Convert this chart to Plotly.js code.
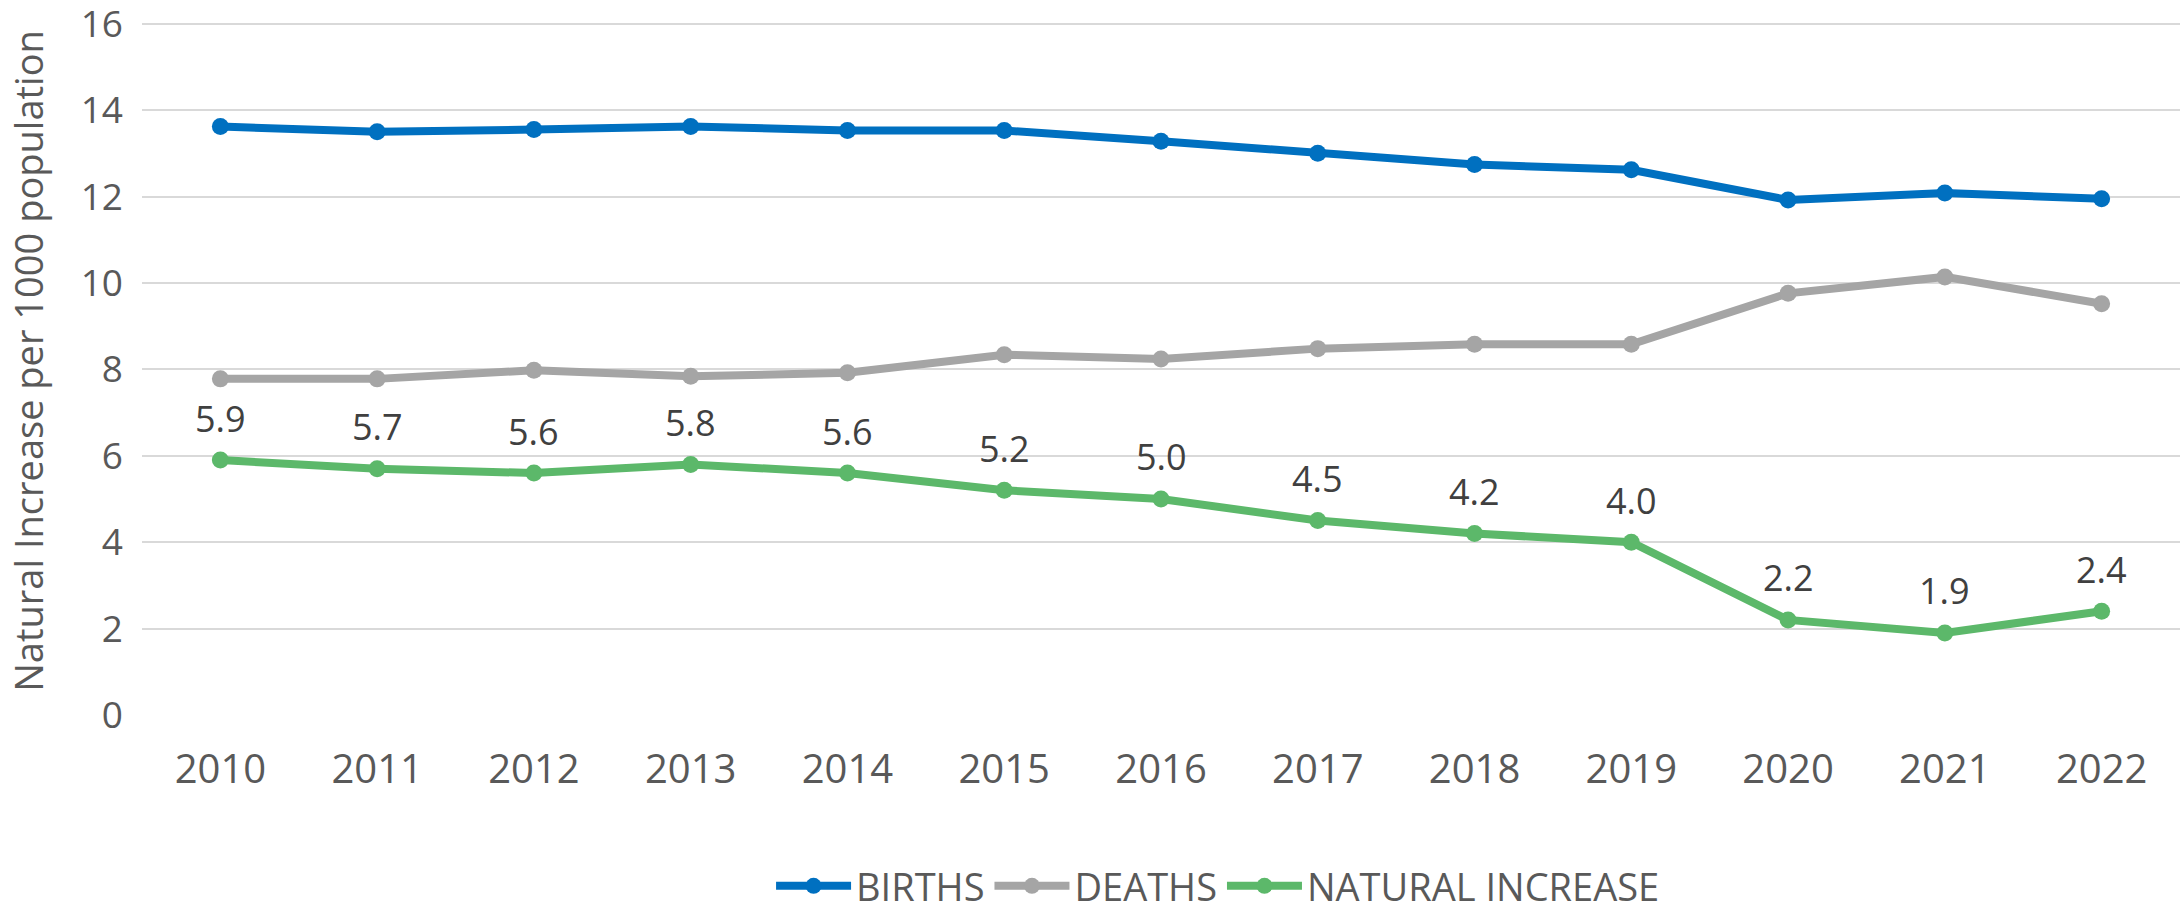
<!DOCTYPE html>
<html>
<head>
<meta charset="utf-8">
<script src="https://cdn.plot.ly/plotly-3.0.1.min.js"></script>
<style>html,body{margin:0;padding:0;background:#fff;}#chart{width:2180px;height:911px;}</style>
</head>
<body>
<div id="chart"></div>
<script>
const years = [2010, 2011, 2012, 2013, 2014, 2015, 2016, 2017, 2018, 2019, 2020, 2021, 2022];
const births = [13.62, 13.5, 13.55, 13.62, 13.53, 13.53, 13.28, 13.0, 12.74, 12.62, 11.92, 12.08, 11.95];
const deaths = [7.78, 7.78, 7.98, 7.84, 7.92, 8.34, 8.24, 8.48, 8.58, 8.58, 9.76, 10.14, 9.52];
const naturalIncrease = [5.9, 5.7, 5.6, 5.8, 5.6, 5.2, 5.0, 4.5, 4.2, 4.0, 2.2, 1.9, 2.4];
const yTicks = [0, 2, 4, 6, 8, 10, 12, 14, 16];
const yTitle = 'Natural Increase per 1000 population';

const FONT = '"Open Sans", "Noto Sans", sans-serif';
const lineStyle = (c) => ({color: c, width: 8});
const markerStyle = (c) => ({color: c, size: 17});

const traces = [
  {x: years, y: births, name: 'BIRTHS', mode: 'lines+markers', line: lineStyle('#0070C0'), marker: markerStyle('#0070C0')},
  {x: years, y: deaths, name: 'DEATHS', mode: 'lines+markers', line: lineStyle('#A5A5A5'), marker: markerStyle('#A5A5A5')},
  {x: years, y: naturalIncrease, name: 'NATURAL INCREASE', mode: 'lines+markers', line: lineStyle('#5CB86A'), marker: markerStyle('#5CB86A')}
];

const annotations = years.map((yr, i) => ({
  x: yr, y: naturalIncrease[i], xref: 'x', yref: 'y',
  text: naturalIncrease[i].toFixed(1), showarrow: false,
  yshift: 42, font: {family: FONT, size: 36, color: '#404040'}
}));
annotations.push({
  xref: 'paper', yref: 'paper', x: -0.056, y: 0.511, xanchor: 'center', yanchor: 'middle',
  text: yTitle, textangle: -90, showarrow: false,
  font: {family: FONT, size: 38, color: '#595959'}
});

const layout = {
  width: 2180, height: 911,
  margin: {l: 142, r: 0, t: 22, b: 196, autoexpand: false},
  paper_bgcolor: '#fff', plot_bgcolor: '#fff',
  showlegend: true,
  legend: {orientation: 'h', x: 0.528, xanchor: 'center', y: -0.247, yanchor: 'middle',
           font: {family: FONT, size: 38, color: '#595959'}, itemwidth: 75, traceorder: 'normal'},
  xaxis: {type: 'linear', range: [2009.5, 2022.5], tickvals: years, showgrid: false, zeroline: false, showline: false, ticks: '',
          tickfont: {family: FONT, size: 40, color: '#595959'}, ticklabelstandoff: 27, fixedrange: true},
  yaxis: {range: [0, 16.04], tickvals: yTicks, showgrid: true, gridcolor: '#D9D9D9', gridwidth: 2,
          zeroline: false, showline: false, ticks: '', ticklabeloverflow: 'allow',
          tickfont: {family: FONT, size: 37, color: '#595959'}, ticklabelstandoff: 18,
          automargin: false, fixedrange: true},
  annotations: annotations
};

Plotly.newPlot('chart', traces, layout, {displayModeBar: false, staticPlot: true});
</script>
</body>
</html>
